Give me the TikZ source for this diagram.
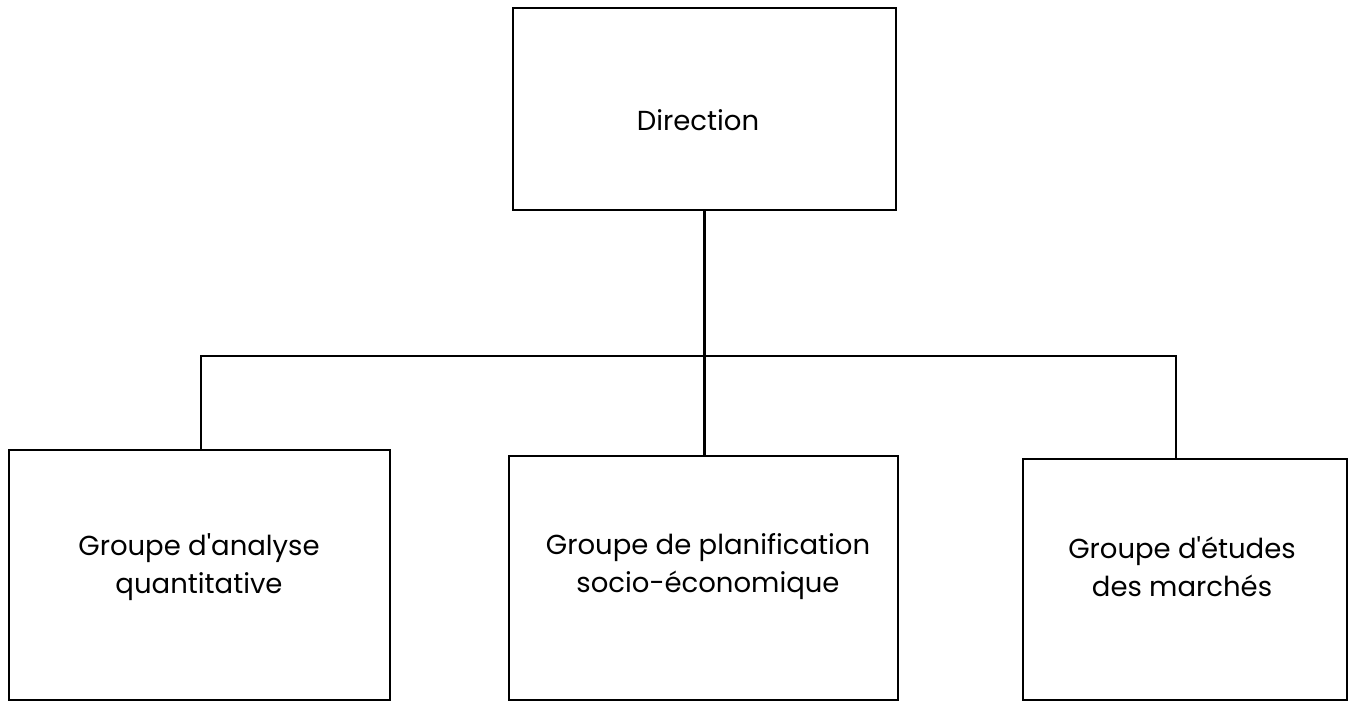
\documentclass[tikz,border=0pt]{standalone}
\usepackage{fontspec}
\setmainfont{Poppins}
\begin{document}
\begin{tikzpicture}[x=1pt,y=-1pt,
  box/.style={draw, line width=2.6pt, rectangle, inner sep=0pt},
  conn/.style={line width=2.3pt},
  lbl/.style={align=center, inner sep=0pt, font=\fontsize{27.5}{38}\selectfont}]
\useasboundingbox (0,0) rectangle (1351,702);
\node[box, minimum width=383pt, minimum height=202pt] (dir) at (704.5,109) {};
\node[box, minimum width=381pt, minimum height=250pt] (left) at (199.5,575) {};
\node[box, minimum width=389pt, minimum height=244pt] (mid) at (703.5,578) {};
\node[box, minimum width=324pt, minimum height=241pt] (right) at (1185,579.5) {};
\node[lbl] (tdir) at (698,120) {Direction};
\node[lbl] (tleft) at (199,567) {Groupe d\textquotesingle analyse\\quantitative};
\node[lbl] (tmid) at (708,567) {Groupe de planification\\socio-économique};
\node[lbl] (tright) at (1182,567) {Groupe d\textquotesingle études\\des marchés};
\coordinate (bl) at (201,356);
\coordinate (br) at (1176,356);
\draw[conn] (left.north -| bl) -- (bl) -- (br) -- (right.north -| br);
\draw[conn] (dir.south) -- (dir.south |- mid.north);
\end{tikzpicture}
\end{document}
